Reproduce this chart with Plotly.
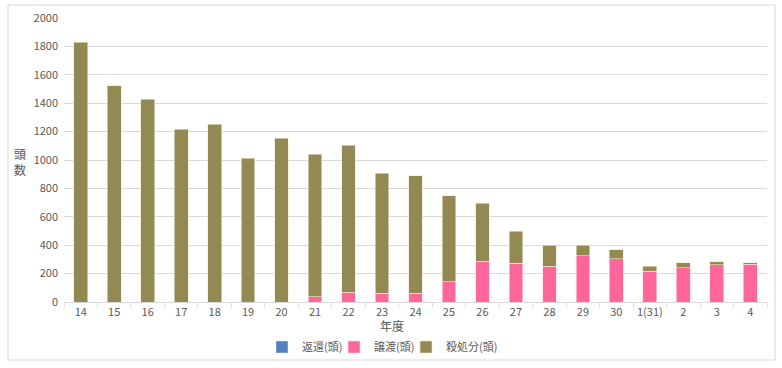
import plotly.graph_objects as go

years = ["14", "15", "16", "17", "18", "19", "20", "21", "22", "23", "24", "25",
         "26", "27", "28", "29", "30", "1(31)", "2", "3", "4"]
returned = [0] * 21
transferred = [0, 0, 0, 0, 0, 0, 0, 37, 68, 61, 61, 141, 286, 272, 253, 326, 305, 218, 242, 261, 265]
culled = [1828, 1523, 1427, 1218, 1251, 1014, 1152, 1002, 1035, 847, 828, 608, 411, 225, 146, 73, 63, 35, 35, 23, 12]

font_fam = "Noto Sans CJK JP, Open Sans, sans-serif"
grey = "#595959"
PL, PR, PT, PB = 64, 767, 18, 302
PW, PH = PR - PL, PB - PT

fig = go.Figure()
fig.add_trace(go.Bar(x=years, y=returned, name="返還(頭)", marker=dict(color="#4F81BD"),
                     legend="legend"))
fig.add_trace(go.Bar(x=years, y=transferred, name="譲渡(頭)",
                     marker=dict(color="#FF6699", line=dict(color="#FFE0EA", width=0.6)),
                     legend="legend2"))
fig.add_trace(go.Bar(x=years, y=culled, name="殺処分(頭)",
                     marker=dict(color="#938953", line=dict(color="#EEE8C8", width=0.6)),
                     legend="legend3"))


def leg(px):
    return dict(orientation="h", x=(px - PL) / PW, xanchor="left", y=(PB - 347) / PH,
                yanchor="middle", font=dict(family=font_fam, size=11, color=grey),
                itemwidth=30, bgcolor="rgba(0,0,0,0)")


fig.update_layout(
    barmode="stack",
    bargap=0.59,
    width=782, height=368,
    margin=dict(l=PL, r=782 - PR, t=PT, b=368 - PB, autoexpand=False),
    paper_bgcolor="white", plot_bgcolor="white",
    font=dict(family=font_fam, size=11, color=grey),
    showlegend=True,
    legend=leg(262), legend2=leg(334), legend3=leg(406),
    xaxis=dict(type="category", showgrid=False, showline=True, linecolor="#D9D9D9",
               ticks="outside", tickson="boundaries", ticklen=4, tickcolor="#D9D9D9",
               tickangle=0, automargin=False,
               tickfont=dict(size=11, color=grey)),
    yaxis=dict(range=[0, 2000], dtick=200, showgrid=True, gridcolor="#D9D9D9",
               zeroline=False, showline=False, tickfont=dict(size=11, color=grey),
               ticksuffix="  ", automargin=False),
    annotations=[
        dict(text="頭<br>数", xref="paper", yref="paper", x=(20 - PL) / PW, y=(PB - 161) / PH,
             showarrow=False, font=dict(size=12, color=grey), xanchor="center",
             yanchor="middle"),
        dict(text="年度", xref="paper", yref="paper", x=(392 - PL) / PW, y=(PB - 326) / PH,
             showarrow=False, font=dict(size=12, color=grey), xanchor="center",
             yanchor="middle"),
    ],
    shapes=[dict(type="rect", xref="paper", yref="paper",
                 x0=(8 - PL) / PW, x1=(775 - PL) / PW,
                 y0=(PB - 360) / PH, y1=(PB - 5) / PH,
                 line=dict(color="#D9D9D9", width=1), fillcolor="rgba(0,0,0,0)", layer="below")],
)

fig.write_html("out.html", config={"displayModeBar": False},
               post_script="document.body.style.margin='0';document.body.style.overflow='hidden';")
